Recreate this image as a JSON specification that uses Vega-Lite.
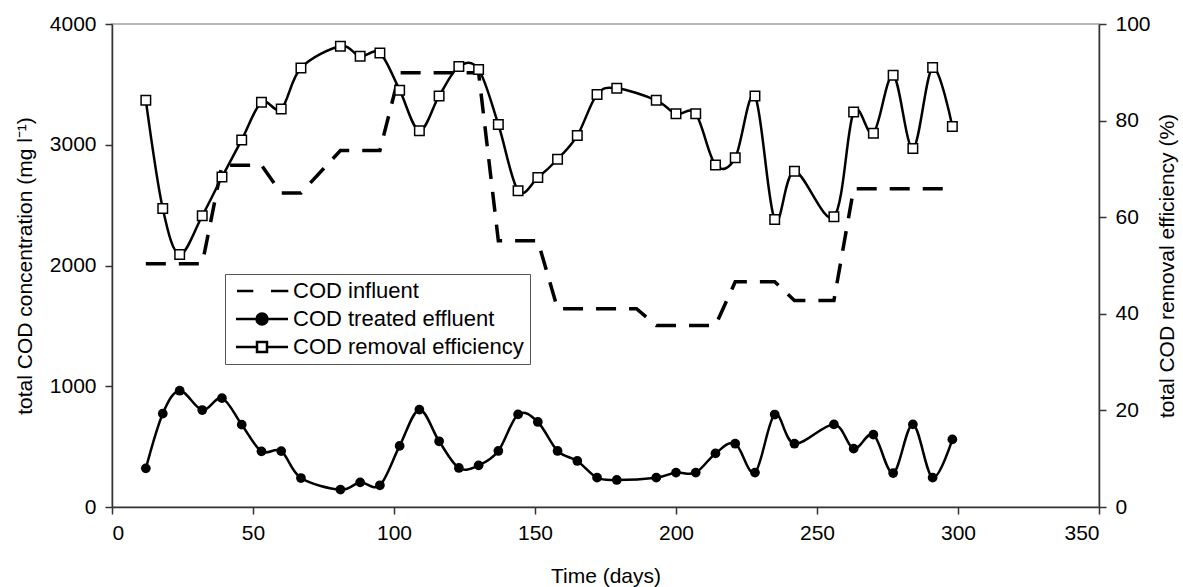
{
  "$schema": "https://vega.github.io/schema/vega-lite/v6.json",
  "width": 987,
  "height": 483,
  "autosize": "none",
  "padding": {"left": 112, "top": 24, "right": 84, "bottom": 80},
  "config": {
    "font": "Liberation Sans",
    "view": {"stroke": "#a0a0a0", "strokeWidth": 1.5},
    "axis": {"grid": false, "domainColor": "#333", "domainWidth": 1.5, "tickColor": "#333", "tickWidth": 1.5, "tickSize": 7, "labelFontSize": 21, "labelColor": "black", "titleFontSize": 21, "titleFontWeight": "normal", "titleColor": "black", "labelFont": "Liberation Sans", "titleFont": "Liberation Sans"}
  },
  "datasets": {
    "cod": [
      {"day": 12, "influent": 2014, "effluent": 320, "efficiency": 84.2},
      {"day": 18, "influent": 2014, "effluent": 773, "efficiency": 61.8},
      {"day": 24, "influent": 2014, "effluent": 963, "efficiency": 52.3},
      {"day": 32, "influent": 2014, "effluent": 803, "efficiency": 60.3},
      {"day": 39, "influent": 2830, "effluent": 902, "efficiency": 68.3},
      {"day": 46, "influent": 2830, "effluent": 682, "efficiency": 76.0},
      {"day": 53, "influent": 2830, "effluent": 461, "efficiency": 83.8},
      {"day": 60, "influent": 2600, "effluent": 463, "efficiency": 82.4},
      {"day": 67, "influent": 2600, "effluent": 240, "efficiency": 90.9},
      {"day": 81, "influent": 2952, "effluent": 144, "efficiency": 95.4},
      {"day": 88, "influent": 2952, "effluent": 204, "efficiency": 93.3},
      {"day": 95, "influent": 2952, "effluent": 180, "efficiency": 94.0},
      {"day": 102, "influent": 3597, "effluent": 506, "efficiency": 86.3},
      {"day": 109, "influent": 3597, "effluent": 806, "efficiency": 77.9},
      {"day": 116, "influent": 3597, "effluent": 544, "efficiency": 85.1},
      {"day": 123, "influent": 3597, "effluent": 323, "efficiency": 91.2},
      {"day": 130, "influent": 3597, "effluent": 345, "efficiency": 90.6},
      {"day": 137, "influent": 2205, "effluent": 464, "efficiency": 79.2},
      {"day": 144, "influent": 2205, "effluent": 767, "efficiency": 65.5},
      {"day": 151, "influent": 2205, "effluent": 704, "efficiency": 68.2},
      {"day": 158, "influent": 1642, "effluent": 464, "efficiency": 72.0},
      {"day": 165, "influent": 1642, "effluent": 381, "efficiency": 76.9},
      {"day": 172, "influent": 1642, "effluent": 243, "efficiency": 85.4},
      {"day": 179, "influent": 1642, "effluent": 224, "efficiency": 86.7},
      {"day": 186, "influent": 1642, "effluent": null, "efficiency": null},
      {"day": 193, "influent": 1504, "effluent": 243, "efficiency": 84.2},
      {"day": 200, "influent": 1504, "effluent": 285, "efficiency": 81.4},
      {"day": 207, "influent": 1504, "effluent": 285, "efficiency": 81.4},
      {"day": 214, "influent": 1504, "effluent": 444, "efficiency": 70.8},
      {"day": 221, "influent": 1865, "effluent": 524, "efficiency": 72.3},
      {"day": 228, "influent": 1865, "effluent": 285, "efficiency": 85.1},
      {"day": 235, "influent": 1865, "effluent": 766, "efficiency": 59.5},
      {"day": 242, "influent": 1710, "effluent": 524, "efficiency": 69.5},
      {"day": 256, "influent": 1710, "effluent": 684, "efficiency": 60.1},
      {"day": 263, "influent": 2635, "effluent": 483, "efficiency": 81.8},
      {"day": 270, "influent": 2635, "effluent": 599, "efficiency": 77.4},
      {"day": 277, "influent": 2635, "effluent": 281, "efficiency": 89.4},
      {"day": 284, "influent": 2635, "effluent": 684, "efficiency": 74.2},
      {"day": 291, "influent": 2635, "effluent": 243, "efficiency": 91.0},
      {"day": 298, "influent": 2635, "effluent": 560, "efficiency": 78.8}
    ]
  },
  "data": {"name": "cod"},
  "layer": [
    {
      "layer": [
        {
          "mark": {"type": "line", "color": "black", "strokeWidth": 3.5, "strokeDash": [20, 13], "invalid": "filter"},
          "encoding": {
            "x": {"field": "day", "type": "quantitative", "scale": {"domain": [0, 350], "nice": false}, "axis": {"title": "Time (days)", "values": [0, 50, 100, 150, 200, 250, 300, 350], "labelPadding": 8, "titlePadding": 22}},
            "y": {"field": "influent", "type": "quantitative", "scale": {"domain": [0, 4000], "nice": false}, "axis": {"title": "total COD concentration (mg l⁻¹)", "values": [0, 1000, 2000, 3000, 4000], "format": "d", "labelPadding": 9, "titlePadding": 14}}
          }
        },
        {
          "mark": {"type": "line", "color": "black", "strokeWidth": 2.5, "interpolate": "cardinal", "invalid": "filter"},
          "encoding": {
            "x": {"field": "day", "type": "quantitative", "scale": {"domain": [0, 350], "nice": false}, "axis": {"title": "Time (days)", "values": [0, 50, 100, 150, 200, 250, 300, 350], "labelPadding": 8, "titlePadding": 22}},
            "y": {"field": "effluent", "type": "quantitative", "scale": {"domain": [0, 4000], "nice": false}, "axis": {"title": "total COD concentration (mg l⁻¹)", "values": [0, 1000, 2000, 3000, 4000], "format": "d", "labelPadding": 9, "titlePadding": 14}}
          }
        },
        {
          "mark": {"type": "point", "filled": true, "color": "black", "size": 95, "opacity": 1, "invalid": "filter"},
          "encoding": {
            "x": {"field": "day", "type": "quantitative", "scale": {"domain": [0, 350], "nice": false}, "axis": {"title": "Time (days)", "values": [0, 50, 100, 150, 200, 250, 300, 350], "labelPadding": 8, "titlePadding": 22}},
            "y": {"field": "effluent", "type": "quantitative", "scale": {"domain": [0, 4000], "nice": false}, "axis": {"title": "total COD concentration (mg l⁻¹)", "values": [0, 1000, 2000, 3000, 4000], "format": "d", "labelPadding": 9, "titlePadding": 14}}
          }
        },
        {
          "transform": [{"fold": ["influent", "effluent", "efficiency"], "as": ["series", "val"]}],
          "mark": {"type": "point", "opacity": 0, "stroke": "black", "strokeWidth": 2.5, "invalid": "filter"},
          "encoding": {
            "x": {"field": "day", "type": "quantitative", "scale": {"domain": [0, 350], "nice": false}, "axis": {"title": "Time (days)", "values": [0, 50, 100, 150, 200, 250, 300, 350], "labelPadding": 8, "titlePadding": 22}},
            "y": {"field": "val", "type": "quantitative", "scale": {"domain": [0, 4000], "nice": false}, "axis": {"title": "total COD concentration (mg l⁻¹)", "values": [0, 1000, 2000, 3000, 4000], "format": "d", "labelPadding": 9, "titlePadding": 14}},
            "shape": {
              "field": "series", "type": "nominal",
              "scale": {"domain": ["influent", "effluent", "efficiency"], "range": ["M-1,0H2.26M5.8,0H9.26", "M-1.2,0H9.2M5.1,0A1.1,1.1,0,1,1,2.9,0A1.1,1.1,0,1,1,5.1,0Z", "M-1.2,0H3M5,0H9.2M3,-1H5V1H3Z"]},
              "legend": {"title": null, "orient": "none", "legendX": 113, "legendY": 250, "padding": 6, "symbolSize": 100, "symbolStrokeWidth": 2.5, "symbolStrokeColor": "black", "symbolOpacity": 1, "labelFontSize": 22, "labelFont": "Liberation Sans", "labelColor": "black", "labelOffset": 40, "rowPadding": 6, "strokeColor": "#555", "fillColor": "white", "cornerRadius": 0, "labelLimit": 400, "labelExpr": "datum.value == 'influent' ? 'COD influent' : datum.value == 'effluent' ? 'COD treated effluent' : 'COD removal efficiency'", "encode": {"symbols": {"update": {"stroke": {"value": "black"}, "strokeWidth": {"value": 2.5}, "opacity": {"value": 1}, "strokeOpacity": {"value": 1}}}}}
            },
            "fill": {
              "field": "series", "type": "nominal",
              "scale": {"domain": ["influent", "effluent", "efficiency"], "range": ["black", "black", "white"]},
              "legend": {"title": null, "orient": "none", "legendX": 113, "legendY": 250, "padding": 6, "symbolSize": 100, "symbolStrokeWidth": 2.5, "symbolStrokeColor": "black", "symbolOpacity": 1, "labelFontSize": 22, "labelFont": "Liberation Sans", "labelColor": "black", "labelOffset": 40, "rowPadding": 6, "strokeColor": "#555", "fillColor": "white", "cornerRadius": 0, "labelLimit": 400, "labelExpr": "datum.value == 'influent' ? 'COD influent' : datum.value == 'effluent' ? 'COD treated effluent' : 'COD removal efficiency'", "encode": {"symbols": {"update": {"stroke": {"value": "black"}, "strokeWidth": {"value": 2.5}, "opacity": {"value": 1}, "strokeOpacity": {"value": 1}}}}}
            }
          }
        }
      ]
    },
    {
      "layer": [
        {
          "mark": {"type": "line", "color": "black", "strokeWidth": 2.5, "interpolate": "cardinal", "invalid": "filter"},
          "encoding": {
            "x": {"field": "day", "type": "quantitative", "scale": {"domain": [0, 350], "nice": false}, "axis": {"title": "Time (days)", "values": [0, 50, 100, 150, 200, 250, 300, 350], "labelPadding": 8, "titlePadding": 22}},
            "y": {"field": "efficiency", "type": "quantitative", "scale": {"domain": [0, 100], "nice": false}, "axis": {"orient": "right", "title": "total COD removal efficiency (%)", "titleAngle": 270, "values": [0, 20, 40, 60, 80, 100], "labelPadding": 9, "titlePadding": 27}}
          }
        },
        {
          "mark": {"type": "point", "shape": "square", "filled": true, "fill": "white", "stroke": "black", "strokeWidth": 1.5, "size": 90, "opacity": 1, "invalid": "filter"},
          "encoding": {
            "x": {"field": "day", "type": "quantitative", "scale": {"domain": [0, 350], "nice": false}, "axis": {"title": "Time (days)", "values": [0, 50, 100, 150, 200, 250, 300, 350], "labelPadding": 8, "titlePadding": 22}},
            "y": {"field": "efficiency", "type": "quantitative", "scale": {"domain": [0, 100], "nice": false}, "axis": {"orient": "right", "title": "total COD removal efficiency (%)", "titleAngle": 270, "values": [0, 20, 40, 60, 80, 100], "labelPadding": 9, "titlePadding": 27}}
          }
        }
      ]
    }
  ],
  "resolve": {"scale": {"y": "independent"}}
}
